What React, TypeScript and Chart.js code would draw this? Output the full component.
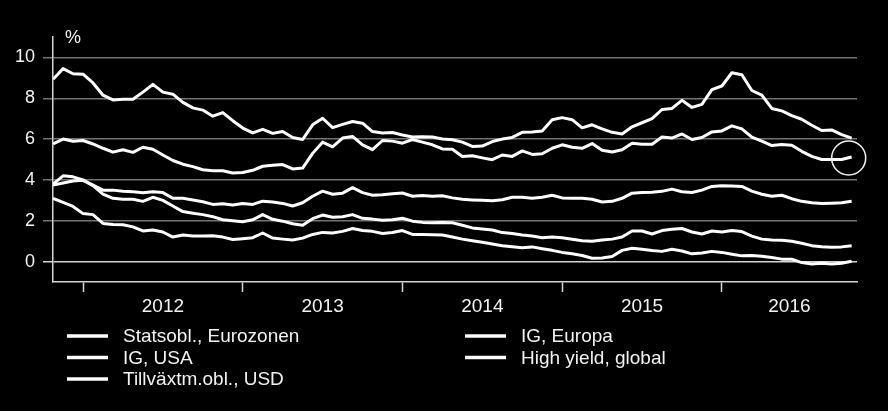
import React, { useEffect, useRef } from "react";
import { Chart, registerables } from "chart.js";

Chart.register(...registerables);

// ---- data (semi-monthly samples, 16 per year, from late Oct 2011) ----
const START_YEAR = 2011.8125;
const STEP = 1 / 16;

const seriesLabels = [
  "Statsobl., Eurozonen",
  "IG, Europa",
  "IG, USA",
  "High yield, global",
  "Tillväxtm.obl., USD",
];

const statsoblEurozonen = [
  3.1, 2.9, 2.7, 2.35, 2.3, 1.87, 1.82, 1.8, 1.7, 1.5, 1.55, 1.45, 1.2, 1.3,
  1.25, 1.25, 1.27, 1.2, 1.08, 1.12, 1.17, 1.4, 1.15, 1.1, 1.06, 1.15, 1.33,
  1.43, 1.4, 1.48, 1.62, 1.52, 1.48, 1.38, 1.42, 1.52, 1.33, 1.33, 1.32, 1.3,
  1.2, 1.1, 1.02, 0.95, 0.86, 0.78, 0.73, 0.68, 0.72, 0.63, 0.55, 0.45, 0.38, 0.3,
  0.16, 0.18, 0.25, 0.55, 0.65, 0.6, 0.54, 0.5, 0.6, 0.52, 0.38, 0.42, 0.5, 0.45,
  0.36, 0.28, 0.3, 0.26, 0.2, 0.12, 0.12, -0.05, -0.12, -0.08, -0.12, -0.08, 0.02,
];

const igEuropa = [
  3.8, 4.2, 4.15, 4.0, 3.72, 3.3, 3.1, 3.05, 3.05, 2.95, 3.15, 3.0, 2.72, 2.45,
  2.37, 2.3, 2.2, 2.05, 2.0, 1.95, 2.05, 2.3, 2.07, 1.98, 1.85, 1.78, 2.1,
  2.28, 2.17, 2.2, 2.3, 2.12, 2.08, 2.02, 2.05, 2.12, 1.98, 1.92, 1.9, 1.92,
  1.9, 1.78, 1.65, 1.6, 1.55, 1.42, 1.38, 1.3, 1.25, 1.17, 1.2, 1.17, 1.09, 1.02,
  1.0, 1.06, 1.1, 1.2, 1.5, 1.5, 1.35, 1.52, 1.58, 1.62, 1.45, 1.35, 1.5, 1.45,
  1.52, 1.47, 1.25, 1.1, 1.06, 1.05, 1.0, 0.9, 0.78, 0.73, 0.7, 0.72, 0.78,
];

const igUsa = [
  3.75, 3.85, 3.95, 3.98, 3.75, 3.5, 3.5, 3.45, 3.42, 3.37, 3.42, 3.38, 3.1, 3.1,
  3.02, 2.93, 2.8, 2.83, 2.77, 2.85, 2.8, 2.96, 2.92, 2.85, 2.72, 2.88, 3.2,
  3.45, 3.3, 3.35, 3.62, 3.38, 3.25, 3.27, 3.32, 3.36, 3.2, 3.24, 3.2, 3.22,
  3.12, 3.05, 3.02, 3.0, 2.98, 3.03, 3.15, 3.15, 3.1, 3.15, 3.25, 3.12, 3.1, 3.1,
  3.05, 2.92, 2.95, 3.1, 3.35, 3.38, 3.4, 3.44, 3.55, 3.42, 3.38, 3.5, 3.68, 3.72,
  3.7, 3.68, 3.45, 3.3, 3.2, 3.25, 3.08, 2.95, 2.88, 2.85, 2.86, 2.88, 2.95,
];

const highYieldGlobal = [
  8.93, 9.45, 9.2, 9.18, 8.75, 8.15, 7.92, 7.95, 7.95, 8.3, 8.68, 8.3, 8.2, 7.8,
  7.53, 7.42, 7.12, 7.3, 6.9, 6.54, 6.3, 6.48, 6.28, 6.37, 6.08, 5.98, 6.7,
  7.02, 6.56, 6.72, 6.86, 6.78, 6.37, 6.3, 6.32, 6.2, 6.1, 6.12, 6.1, 6.0,
  5.97, 5.85, 5.64, 5.66, 5.88, 6.0, 6.08, 6.33, 6.35, 6.4, 6.95, 7.05, 6.95, 6.55,
  6.7, 6.5, 6.33, 6.25, 6.6, 6.8, 7.0, 7.45, 7.5, 7.9, 7.55, 7.7, 8.42, 8.6,
  9.25, 9.15, 8.38, 8.15, 7.5, 7.38, 7.15, 6.97, 6.68, 6.42, 6.45, 6.22, 6.05,
];

const tillvaxtUsd = [
  5.77, 6.0, 5.89, 5.93, 5.76, 5.55, 5.36, 5.48, 5.35, 5.6, 5.5, 5.22, 4.95, 4.77,
  4.65, 4.5, 4.45, 4.45, 4.34, 4.36, 4.47, 4.67, 4.72, 4.75, 4.54, 4.58, 5.3,
  5.85, 5.62, 6.05, 6.13, 5.72, 5.48, 5.93, 5.9, 5.8, 5.98, 5.85, 5.72, 5.52,
  5.5, 5.15, 5.18, 5.08, 4.99, 5.22, 5.15, 5.42, 5.25, 5.28, 5.55, 5.72, 5.6, 5.55,
  5.78, 5.45, 5.37, 5.48, 5.8, 5.75, 5.75, 6.1, 6.05, 6.25, 5.98, 6.08, 6.35, 6.4,
  6.65, 6.5, 6.1, 5.9, 5.68, 5.73, 5.7, 5.4, 5.15, 5.0, 5.0, 5.0, 5.12,
];

const seriesValues = [statsoblEurozonen, igEuropa, igUsa, highYieldGlobal, tillvaxtUsd];

const yTicks = [0, 2, 4, 6, 8, 10];
const yearLabels = ["2012", "2013", "2014", "2015", "2016"];
const yearStarts = [2012, 2013, 2014, 2015, 2016];
const X_MIN = 2011.812;
const X_MAX = 2016.846;
const Y_MIN = -1;
const Y_MAX = 11;
const unitLabel = "%";
const circleAt = { x: 2016.794, y: 5.07 };

const FONT = "'Liberation Sans', Arial, Helvetica, sans-serif";
const GRID = "#737373";
const ZERO = "#d4d4d4";

const labelPositions = yearStarts.map((s, i) => {
  const end = i < yearStarts.length - 1 ? yearStarts[i + 1] : X_MAX;
  return (s + end) / 2;
});

function toPoints(vals: number[]) {
  return vals.map((v, i) => ({ x: START_YEAR + i * STEP, y: v }));
}

const overlayPlugin = {
  id: "overlay",
  beforeDraw(chart: any) {
    const { ctx, width, height } = chart;
    ctx.save();
    ctx.fillStyle = "#000";
    ctx.fillRect(0, 0, width, height);
    ctx.restore();
  },
  afterDatasetsDraw(chart: any) {
    const { ctx, scales } = chart;
    const cx = scales.x.getPixelForValue(circleAt.x);
    const cy = scales.y.getPixelForValue(circleAt.y);
    ctx.save();
    ctx.strokeStyle = "#f0f0f0";
    ctx.lineWidth = 1.5;
    ctx.beginPath();
    ctx.arc(cx, cy, 17, 0, Math.PI * 2);
    ctx.stroke();
    ctx.restore();
  },
  afterDraw(chart: any) {
    const { ctx, chartArea } = chart;
    ctx.save();
    ctx.fillStyle = "#f2f2f2";
    ctx.font = `18px ${FONT}`;
    ctx.textAlign = "center";
    ctx.textBaseline = "middle";
    ctx.fillText(unitLabel, chartArea.left + 20, 38);
    const colX = [67, 465];
    const rowY = [336, 357.5, 379];
    ctx.font = `19px ${FONT}`;
    ctx.textAlign = "left";
    chart.data.datasets.forEach((ds: any, i: number) => {
      const x = colX[i % 2];
      const y = rowY[Math.floor(i / 2)];
      ctx.strokeStyle = "#ffffff";
      ctx.lineWidth = 3.5;
      ctx.beginPath();
      ctx.moveTo(x, y);
      ctx.lineTo(x + 41, y);
      ctx.stroke();
      ctx.fillStyle = "#f2f2f2";
      ctx.fillText(ds.label, x + 56, y + 1);
    });
    ctx.restore();
  },
};

export default function App() {
  const ref = useRef<HTMLCanvasElement | null>(null);

  useEffect(() => {
    document.body.style.margin = "0";
    document.body.style.background = "#000";
    const canvas = ref.current;
    if (!canvas) return;
    const chart = new Chart(canvas, {
      type: "line",
      data: {
        datasets: seriesValues.map((vals, i) => ({
          label: seriesLabels[i],
          data: toPoints(vals),
          borderColor: "#ffffff",
          backgroundColor: "#ffffff",
          borderWidth: 3,
          pointRadius: 0,
          tension: 0,
          borderJoinStyle: "round" as const,
        })),
      },
      options: {
        responsive: false,
        animation: false,
        parsing: false as any,
        layout: { padding: { top: 37, right: 31, left: 0, bottom: 0 } },
        plugins: {
          legend: { display: false },
          tooltip: { enabled: false },
        },
        scales: {
          x: {
            type: "linear",
            min: X_MIN,
            max: X_MAX,
            afterBuildTicks: (scale: any) => {
              const vals = [...yearStarts, ...labelPositions].sort((a, b) => a - b);
              scale.ticks = vals.map((v) => ({ value: v }));
            },
            afterFit: (scale: any) => {
              scale.height = 129;
            },
            ticks: {
              autoSkip: false,
              maxRotation: 0,
              padding: 3,
              color: "#f2f2f2",
              font: { family: FONT, size: 19 },
              callback: (value: any) => {
                const idx = labelPositions.findIndex((p) => Math.abs(p - Number(value)) < 1e-6);
                return idx >= 0 ? yearLabels[idx] : "";
              },
            },
            grid: {
              drawOnChartArea: false,
              drawTicks: true,
              tickLength: 10,
              tickWidth: 1.5,
              tickColor: (ctx: any) =>
                ctx.tick && Number.isInteger(ctx.tick.value) ? ZERO : "rgba(0,0,0,0)",
            },
            border: { display: true, color: ZERO, width: 1.5 },
          },
          y: {
            type: "linear",
            min: Y_MIN,
            max: Y_MAX,
            afterBuildTicks: (scale: any) => {
              scale.ticks = yTicks.map((v) => ({ value: v }));
            },
            afterFit: (scale: any) => {
              scale.width = 53;
            },
            ticks: {
              padding: 8,
              color: "#f2f2f2",
              font: { family: FONT, size: 18 },
              callback: (value: any) => String(value),
            },
            grid: {
              color: (ctx: any) => (ctx.tick && ctx.tick.value === 0 ? ZERO : GRID),
              lineWidth: 1.5,
              drawTicks: true,
              tickLength: 10,
              tickColor: (ctx: any) => (ctx.tick && ctx.tick.value === 0 ? ZERO : GRID),
            },
            border: { display: true, color: ZERO, width: 1.5 },
          },
        },
      },
      plugins: [overlayPlugin],
    } as any);
    return () => chart.destroy();
  }, []);

  return (
    <div style={{ position: "fixed", left: 0, top: 0, width: 888, height: 411, background: "#000" }}>
      <canvas ref={ref} width={888} height={411} style={{ display: "block" }} />
    </div>
  );
}
